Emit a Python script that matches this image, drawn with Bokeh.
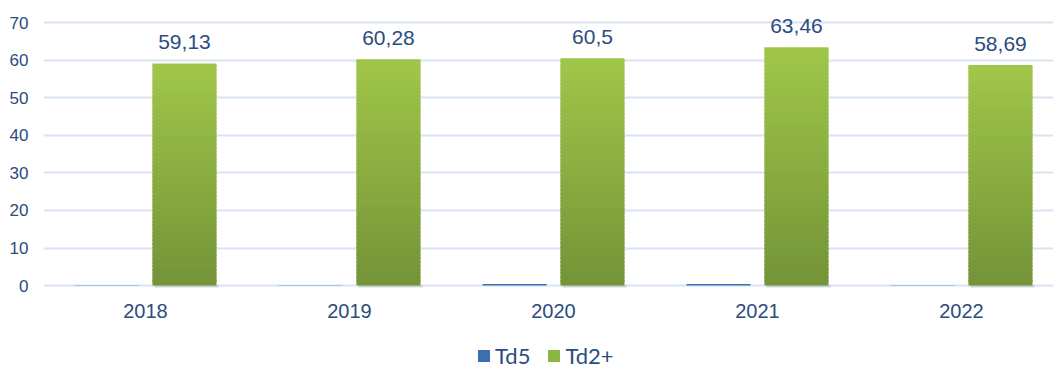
from bokeh.plotting import figure
from bokeh.models import Range1d, FixedTicker, Legend, LegendItem, ColumnDataSource, Grid
from bokeh.layouts import column
from bokeh.core.properties import value
from bokeh.embed import file_html
from bokeh.resources import INLINE
import numpy as np

years = ["2018", "2019", "2020", "2021", "2022"]
td5 = [0.1, 0.1, 0.4, 0.4, 0.1]
td2 = [59.13, 60.28, 60.5, 63.46, 58.69]
td2_labels = ["59,13", "60,28", "60,5", "63,46", "58,69"]
y_ticks = [0, 10, 20, 30, 40, 50, 60, 70]
series_names = ["Td5", "Td2+"]

TXT = "#2B4C7E"
FONT = "Liberation Sans"
BLUE = "#3C6EB4"
GREEN = "#8DB543"

MAIN_H = 329
FRAME_BOTTOM = 287
PX_PER_UNIT = 3.757
y_lo = -0.5
y_hi = y_lo + FRAME_BOTTOM / PX_PER_UNIT

p = figure(width=1053, height=MAIN_H, output_backend="svg", toolbar_location=None,
           x_range=Range1d(-0.5, 4.451), y_range=Range1d(y_lo, y_hi),
           min_border_left=43, min_border_right=0, min_border_top=0,
           min_border_bottom=MAIN_H - FRAME_BOTTOM)
p.outline_line_color = None
p.background_fill_color = "white"
p.border_fill_color = "white"

xs = np.arange(len(years))
bw = 0.314
off = 0.191

# shadows under green bars
p.quad(left=xs + off - bw / 2 + 0.01, right=xs + off + bw / 2 + 0.01,
       bottom=-0.55, top=0, fill_color="#999999", fill_alpha=0.45, line_color=None)

# Td5 bars
p.vbar(x=xs - off, top=td5, bottom=0, width=bw, fill_color=BLUE, line_color=None)

# Td2+ bars with vertical gradient built from slices
bot_c = np.array([0x74, 0x94, 0x38])
top_c = np.array([0xA1, 0xC7, 0x4A])
n = 60
L, R, B, T, C = [], [], [], [], []
for i, v in enumerate(td2):
    edges = np.linspace(0, v, n + 1)
    for k in range(n):
        f = (k + 0.5) / n
        c = (bot_c + (top_c - bot_c) * f).astype(int)
        L.append(float(xs[i] + off - bw / 2))
        R.append(float(xs[i] + off + bw / 2))
        B.append(float(edges[k]))
        T.append(float(min(edges[k + 1] + 0.5, v)))
        C.append("#%02x%02x%02x" % tuple(int(q) for q in c))
p.quad(left=L, right=R, bottom=B, top=T, fill_color=C, line_color=None)

# value labels
src = ColumnDataSource(dict(x=(xs + off).tolist(), y=td2, t=td2_labels))
p.text(x="x", y="y", text="t", source=src, text_align="center", text_baseline="bottom",
       y_offset=-14, text_font=value(FONT), text_font_size="21px", text_color=TXT)

# axes
p.yaxis.ticker = FixedTicker(ticks=y_ticks)
p.yaxis.axis_line_color = None
p.yaxis.major_tick_line_color = None
p.yaxis.minor_tick_line_color = None
p.yaxis.major_label_text_font = FONT
p.yaxis.major_label_text_font_size = "17px"
p.yaxis.major_label_text_color = TXT
p.yaxis.major_label_standoff = 9

p.xaxis.ticker = FixedTicker(ticks=list(range(len(years))))
p.xaxis.major_label_overrides = {i: y for i, y in enumerate(years)}
p.xaxis.axis_line_color = None
p.xaxis.major_tick_line_color = None
p.xaxis.minor_tick_line_color = None
p.xaxis.major_label_text_font = FONT
p.xaxis.major_label_text_font_size = "20px"
p.xaxis.major_label_text_color = TXT
p.xaxis.major_label_standoff = 10

p.xgrid.grid_line_color = None
p.ygrid.grid_line_color = "#D9E4F3"
p.ygrid.grid_line_width = 2

# legend strip
LEG_H = 369 - MAIN_H
pl = figure(width=1053, height=LEG_H, output_backend="svg", toolbar_location=None,
            x_range=Range1d(0, 1), y_range=Range1d(0, 1),
            x_axis_location=None, y_axis_location=None,
            min_border=0, min_border_left=43, min_border_right=0,
            min_border_top=0, min_border_bottom=0)
pl.center = [c for c in pl.center if not isinstance(c, Grid)]
pl.outline_line_color = None
pl.border_fill_color = "white"
pl.background_fill_color = "white"
lr5 = pl.vbar(x=[50.0], top=[51.0], bottom=[50.0], width=0.1, fill_color=BLUE, line_color=None)
lr2 = pl.vbar(x=[50.0], top=[51.0], bottom=[50.0], width=0.1, fill_color=GREEN, line_color=None)
legend = Legend(items=[LegendItem(label=series_names[0], renderers=[lr5]),
                       LegendItem(label=series_names[1], renderers=[lr2])],
                orientation="horizontal", location=(433, 0),
                glyph_width=15, glyph_height=15, label_text_font="Lato",
                label_text_font_size="22px", label_text_color=TXT,
                border_line_color=None, background_fill_alpha=0,
                spacing=16, label_standoff=4, margin=0, padding=1)
pl.add_layout(legend)

layout = column(p, pl, spacing=0)
open("out.html", "w").write(file_html(layout, INLINE))
